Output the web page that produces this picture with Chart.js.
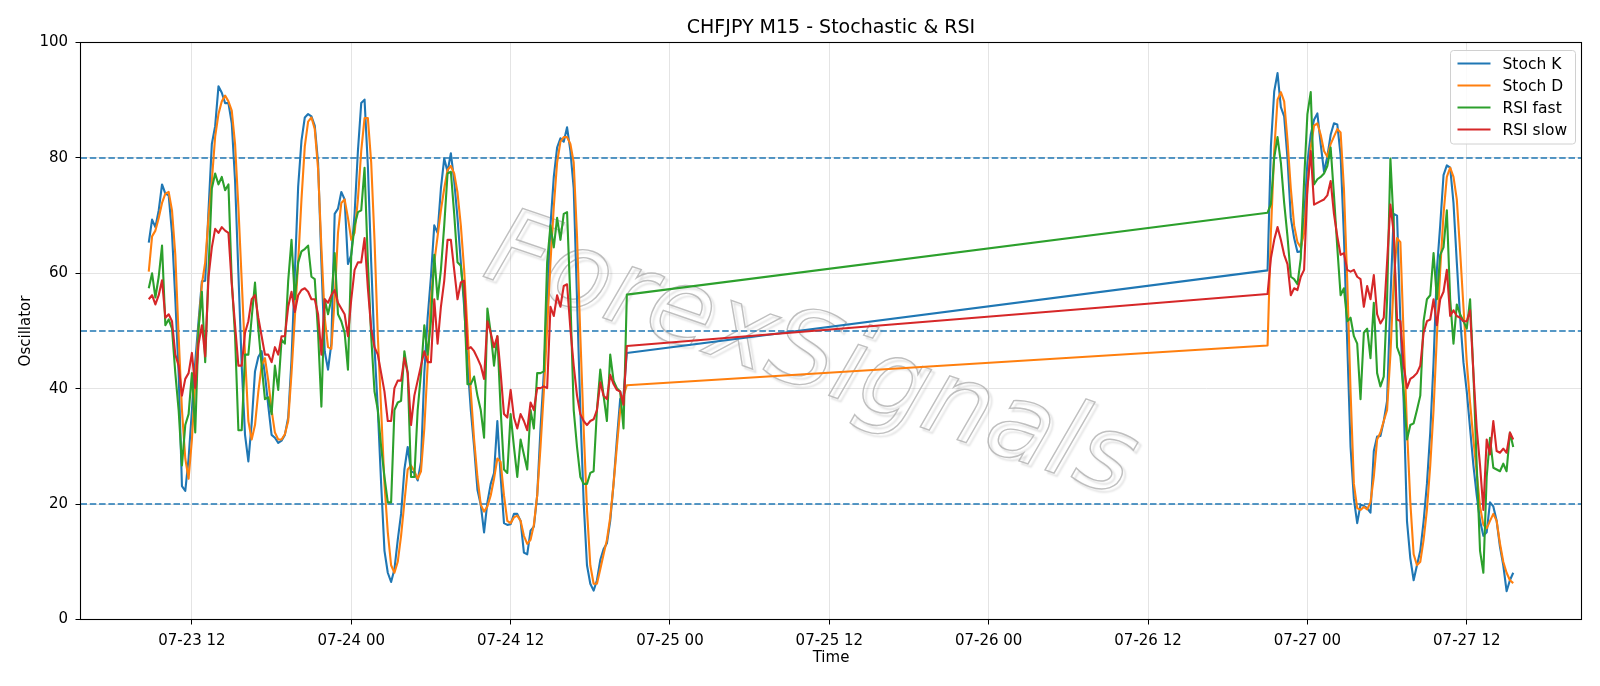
<!DOCTYPE html>
<html>
<head>
<meta charset="utf-8">
<title>CHFJPY M15 - Stochastic &amp; RSI</title>
<script src="https://cdn.jsdelivr.net/npm/chart.js@4.4.1/dist/chart.umd.min.js"></script>
<style>
  html, body { margin: 0; padding: 0; background: #fff; }
  #wrap { width: 1600px; height: 686px; }
</style>
</head>
<body>
<div id="wrap"><canvas id="chart" width="1600" height="686"></canvas></div>
<script>
// time axis in hours counted from 07-23 00:00, one bar every 15 minutes
const barStep = 0.25;
const fridayStart = 8.75;   // 07-23 08:45, runs until Friday close
const sundayStart = 93.0;   // 07-26 21:00, Sunday open

// session before the weekend gap (145 bars)
const stochK_fri = [
  65.3, 69.3, 68, 70.9, 75.4, 73.8, 73.5, 67, 55.5, 42.7,
  23.1, 22.3, 27.9, 36.3, 44.6, 51.7, 58.6, 58.7, 70.9, 82.4,
  85.5, 92.4, 91.3, 89.5, 89.5, 86, 76, 60, 44, 32,
  27.4, 34, 43, 45.5, 46.5, 42.5, 37, 32, 31.5, 30.6,
  31, 32, 35, 45, 60, 75, 83, 87, 87.6, 87.2,
  85.6, 79.2, 61.9, 46.5, 43.3, 47.8, 70.3, 71.2, 74.1, 72.8,
  61.6, 63.2, 70.3, 81.2, 89.5, 90.1, 78.6, 61.9, 47.2, 36.3,
  23.5, 11.9, 8.1, 6.5, 8.7, 13.8, 18.3, 26, 29.9, 25.7,
  25.4, 24.1, 27.3, 42.7, 52.3, 59.4, 68.3, 67, 74.7, 79.9,
  77.6, 80.8, 76, 69.6, 61.9, 54.2, 44.6, 36.3, 29.9, 22.5,
  19.9, 15.1, 20.3, 23.5, 25.4, 34.4, 24.7, 16.7, 16.4, 16.5,
  18.3, 18.3, 17.1, 11.6, 11.3, 15.4, 16.1, 21.5, 33.1, 42.7,
  54.2, 68.3, 76.7, 81.8, 83.4, 82.8, 85.3, 81.2, 74.7, 55.5,
  36.3, 20.3, 9.4, 6.2, 5, 6.8, 10.3, 12.2, 13.2, 17.1,
  23.5, 31.2, 38.2, 38.8, 46.2
];
const stochD_fri = [
  60.3, 66.4, 67.4, 69.6, 72.2, 73.8, 74.1, 70.9, 63.2, 49.1,
  36.3, 27.9, 24.4, 31.2, 41.4, 50.4, 58.1, 61.9, 69.6, 76,
  83.7, 87.6, 89.8, 90.8, 89.8, 88.2, 82.4, 71.5, 58.7, 45.9,
  34.4, 31.2, 33.7, 39.5, 44, 45.3, 41.4, 36.3, 32.4, 31.2,
  31.2, 32.1, 34.4, 42.7, 52.3, 61.9, 72.8, 82, 86.3, 87,
  85, 78.1, 64.5, 52.3, 47.2, 46.9, 55.5, 67, 72.2, 72.8,
  69.6, 65.8, 67, 72.8, 81.2, 86.9, 86.9, 79.2, 65.8, 49.1,
  36.3, 23.5, 15.1, 9.4, 8.1, 10, 14.5, 20.3, 26, 26.7,
  25.7, 24.4, 25.7, 33.1, 44, 55.5, 61.9, 66.4, 70.9, 74.7,
  77.9, 78.6, 77.3, 74, 68.3, 60.6, 50.4, 39.5, 31.2, 24.7,
  19.9, 18.7, 19.6, 21.5, 24.4, 27.9, 27.3, 21.5, 17.1, 16.7,
  17.7, 18, 17.1, 14.5, 13.1, 13.8, 16.4, 21.5, 29.9, 39.5,
  50.4, 61.9, 71.5, 79.2, 82.8, 83.6, 83.6, 82.4, 79.2, 66.4,
  49.1, 33.1, 19, 9.4, 6.2, 6.2, 8.7, 11.3, 13.8, 17.7,
  23.5, 29.9, 36.3, 38.8, 40.6
];
const rsiFast_fri = [
  57.4, 60, 55.8, 59.4, 64.8, 51, 52, 50.4, 42.7, 36.3,
  26.7, 33.7, 35.6, 42.7, 32.4, 50.4, 56.8, 44.6, 60.6, 74.7,
  77.3, 75.4, 76.7, 74.4, 75.4, 58.7, 49.1, 32.8, 32.8, 45.9,
  45.9, 52.3, 58.4, 50.4, 44, 38.2, 38.5, 35.6, 44, 39.8,
  48.5, 47.8, 58.7, 65.8, 55.5, 61.9, 63.8, 64.2, 64.8, 59.4,
  59, 49.7, 36.9, 55.5, 52.9, 55.5, 63.5, 52.9, 51.7, 49.7,
  43.3, 63.2, 68.3, 70.6, 70.9, 78.3, 61.9, 49.1, 39.5, 36.3,
  29.9, 24.7, 20.3, 20.3, 36.3, 37.6, 37.9, 46.5, 42.7, 24.7,
  24.7, 36.3, 42.7, 51, 45.9, 51.7, 63.2, 55.5, 60.6, 68.3,
  77.3, 77.6, 70.3, 61.9, 61.3, 55.5, 40.8, 40.8, 42.1, 38.8,
  36.3, 31.5, 53.9, 49.7, 44, 49.1, 36.3, 26, 25.4, 35.6,
  29.9, 24.7, 31.2, 28.6, 26, 36.3, 33.1, 42.7, 42.7, 43,
  61.9, 68.3, 64.5, 69.6, 65.8, 70.3, 70.6, 55.5, 36.3, 29.9,
  24.7, 23.5, 23.5, 25.4, 25.7, 36.3, 43.3, 38.8, 34.4, 45.9,
  41.4, 40.1, 39.5, 33.1, 56.3
];
const rsiSlow_fri = [
  55.5, 56.2, 54.6, 56.2, 58.8, 52.3, 52.9, 51.7, 45.9, 44,
  38.8, 41.7, 42.7, 46.2, 40.1, 47.8, 51, 45.6, 59.4, 64.5,
  67.7, 67, 68, 67.4, 67, 58.1, 51, 44, 44, 49.7,
  51.7, 55.5, 56.2, 52.3, 49.1, 45.9, 45.9, 44.6, 47.2, 45.9,
  49.1, 49.1, 54.2, 56.8, 53.3, 56.2, 57.1, 57.4, 56.8, 55.5,
  55.5, 52.9, 45.9, 55.5, 54.9, 56.2, 57.1, 54.9, 53.9, 52.9,
  49.1, 55.5, 60.6, 61.9, 61.9, 66.1, 57.4, 50.4, 47.2, 45.9,
  42.7, 39.5, 34.4, 34.4, 40.1, 41.4, 41.4, 45.3, 42.7, 33.7,
  38.8, 41.4, 44, 46.5, 44.6, 44.6, 55.5, 47.8, 54.2, 58.7,
  65.8, 65.8, 60.6, 55.5, 58.4, 58.7, 46.9, 47.2, 46.5, 45.3,
  44, 41.7, 51.7, 49.7, 47.2, 49.1, 42.7, 35.6, 35, 39.8,
  35, 33.1, 35.6, 34.4, 32.8, 37.6, 36.3, 40.1, 40.1, 40.4,
  40.1, 54.2, 52.6, 56.2, 54.2, 57.8, 58.1, 50.4, 44, 38.8,
  35.6, 34.4, 33.7, 34.4, 34.7, 36.3, 41.1, 38.8, 38.2, 42.4,
  40.8, 39.8, 39.5, 37.2, 47.4
];

// session after the weekend gap (75 bars)
const stochK_sun = [
  60.5, 82, 91.5, 94.7, 88.8, 87.2, 79.9, 69.6, 66.1, 63.7,
  63.8, 69.6, 79.2, 84, 86.6, 87.7, 82.4, 77.6, 80.2, 84,
  86, 85.8, 80.5, 66.4, 47.8, 29.9, 20.9, 16.7, 19.9, 19.7,
  19.3, 18.5, 29.2, 31.7, 31.8, 34.4, 37.9, 55.5, 70.3, 70,
  51.7, 37.6, 17, 10.6, 6.8, 9.4, 11.9, 17, 23.5, 32.4,
  44.6, 60.6, 68.3, 77, 78.7, 78.3, 72.2, 61.9, 52.3, 44.6,
  39.5, 33.1, 26.7, 21.5, 17.1, 14.5, 15.1, 20.3, 19.6, 17.1,
  12.6, 9.4, 4.9, 6.8, 8.1
];
const stochD_sun = [
  47.5, 67, 81.2, 90.1, 91.4, 89.8, 83.1, 74.7, 68.3, 65.4,
  64.5, 67, 74.7, 81.8, 85.6, 86, 84, 81.2, 80.2, 82.4,
  83.7, 85, 84.4, 74.7, 58.7, 39.5, 23.5, 19.3, 19, 19.5,
  19.1, 20.3, 24.7, 31.2, 32.4, 34.4, 36.3, 45.9, 58.7, 66.1,
  65.4, 49.1, 33.1, 20.3, 11.3, 9.4, 10, 13.8, 19, 26.7,
  36.3, 49.1, 60.6, 70.3, 76.7, 78.3, 76.7, 72.8, 63.8, 54.2,
  44.6, 37.6, 31.2, 25.4, 19.6, 16.4, 15.8, 17.1, 18.3, 17.1,
  13.2, 10, 8.1, 6.8, 6.3
];
const rsiFast_sun = [
  70.5, 72, 80, 83.6, 79.2, 72.2, 66.4, 59.4, 59, 58.1,
  62.6, 76, 87.6, 91.4, 75.4, 76.3, 76.7, 77.3, 78.6, 81.8,
  73.5, 64.5, 56.2, 57.4, 51.7, 52.3, 49.1, 47.8, 38.2, 49.7,
  50.4, 45.3, 54.9, 42.7, 40.4, 42.1, 55.5, 79.9, 68.3, 47.2,
  45.6, 39.5, 31.2, 33.7, 34, 36.3, 38.8, 51.7, 55.5, 56.2,
  63.5, 55.5, 63.2, 64.5, 70.9, 55.5, 47.8, 54.6, 52.9, 51.7,
  50.4, 55.5, 42.7, 26.7, 11.9, 8.1, 24.7, 31.5, 26.3, 26,
  25.7, 27, 25.7, 32.4, 29.9
];
const rsiSlow_sun = [
  56.4, 62.6, 65.8, 68, 65.8, 63.2, 61.6, 56.2, 57.4, 57.1,
  59.4, 60.6, 74.7, 81.2, 71.9, 72.2, 72.5, 72.8, 73.5, 76,
  70.3, 66.4, 63.2, 63.5, 60.6, 60.3, 60.6, 59.4, 59, 54.2,
  57.8, 55.5, 59.7, 52.9, 51.3, 52.3, 61.9, 71.9, 67, 52,
  51.7, 44, 40.1, 41.7, 42.1, 42.7, 44, 49.7, 51.7, 52,
  55.5, 51, 55.5, 56.8, 60.6, 52.6, 53.6, 52.6, 52.3, 51.7,
  51.7, 53.6, 42.7, 33.1, 26.7, 19, 31.2, 28.6, 34.4, 29.2,
  28.9, 29.6, 28.9, 32.4, 31.2
];

const xTickHours = [12, 24, 36, 48, 60, 72, 84, 96, 108];
const xTickLabels = ['07-23 12', '07-24 00', '07-24 12', '07-25 00', '07-25 12',
                     '07-26 00', '07-26 12', '07-27 00', '07-27 12'];
const refLevels = [20, 50, 80];
const seriesNames = ['Stoch K', 'Stoch D', 'RSI fast', 'RSI slow'];
const seriesColors = ['#1f77b4', '#ff7f0e', '#2ca02c', '#d62728'];

function toPoints(fri, sun) {
  const a = fri.map((v, i) => ({ x: fridayStart + i * barStep, y: v }));
  const b = sun.map((v, i) => ({ x: sundayStart + i * barStep, y: v }));
  return a.concat(b);
}

const seriesData = [
  toPoints(stochK_fri, stochK_sun),
  toPoints(stochD_fri, stochD_sun),
  toPoints(rsiFast_fri, rsiFast_sun),
  toPoints(rsiSlow_fri, rsiSlow_sun)
];

const baseFont = { family: 'DejaVu Sans', size: 15, weight: 'normal' };

// dashed overbought / mid / oversold lines
const refLines = {
  id: 'refLines',
  beforeDatasetsDraw(chart) {
    const { ctx, chartArea: a, scales: { y } } = chart;
    ctx.save();
    ctx.strokeStyle = '#1f77b4';
    ctx.lineWidth = 1.5;
    ctx.setLineDash([6.5, 2.8]);
    refLevels.forEach(v => {
      const py = y.getPixelForValue(v);
      ctx.beginPath();
      ctx.moveTo(a.left, py);
      ctx.lineTo(a.right, py);
      ctx.stroke();
    });
    ctx.restore();
  }
};

// grey outlined watermark across the plot
const watermark = {
  id: 'watermark',
  beforeDatasetsDraw(chart) {
    const { ctx, chartArea: a } = chart;
    ctx.save();
    ctx.translate(a.left + (a.right - a.left) * 0.486, a.top + (a.bottom - a.top) * 0.55);
    ctx.rotate(19 * Math.PI / 180);
    ctx.font = 'oblique 106px "DejaVu Sans"';
    ctx.textAlign = 'center';
    ctx.textBaseline = 'middle';
    ctx.shadowColor = 'rgba(0,0,0,0.18)';
    ctx.shadowOffsetX = 3;
    ctx.shadowOffsetY = 3;
    ctx.shadowBlur = 2;
    ctx.strokeStyle = 'rgba(175,175,175,0.8)';
    ctx.lineWidth = 1.4;
    ctx.strokeText('ForexSignals', 0, 0);
    ctx.restore();
  }
};

// black frame on all four sides, drawn above the lines like the spines
const frame = {
  id: 'frame',
  afterDatasetsDraw(chart) {
    const { ctx, chartArea: a } = chart;
    ctx.save();
    ctx.strokeStyle = '#000';
    ctx.lineWidth = 1.1;
    ctx.strokeRect(a.left, a.top, a.right - a.left, a.bottom - a.top);
    ctx.restore();
  }
};

// legend box in the upper right corner of the plot
const legendBox = {
  id: 'legendBox',
  afterDraw(chart) {
    const { ctx, chartArea: a } = chart;
    const w = 125, h = 93.5;
    const x0 = a.right - 6 - w, y0 = a.top + 8;
    ctx.save();
    ctx.beginPath();
    ctx.roundRect(x0, y0, w, h, 3);
    ctx.fillStyle = 'rgba(255,255,255,0.85)';
    ctx.fill();
    ctx.strokeStyle = '#d0d0d0';
    ctx.lineWidth = 1;
    ctx.stroke();
    ctx.font = '15.5px "DejaVu Sans"';
    ctx.textAlign = 'left';
    ctx.textBaseline = 'middle';
    chart.data.datasets.forEach((ds, k) => {
      const cy = y0 + 13 + k * 22;
      ctx.strokeStyle = ds.borderColor;
      ctx.lineWidth = 2.2;
      ctx.beginPath();
      ctx.moveTo(x0 + 7, cy);
      ctx.lineTo(x0 + 40, cy);
      ctx.stroke();
      ctx.fillStyle = '#000';
      ctx.fillText(ds.label, x0 + 52, cy + 1);
    });
    ctx.restore();
  }
};

new Chart(document.getElementById('chart'), {
  type: 'line',
  data: {
    datasets: seriesNames.map((name, k) => ({
      label: name,
      data: seriesData[k],
      borderColor: seriesColors[k],
      backgroundColor: seriesColors[k],
      borderWidth: 2.1,
      borderJoinStyle: 'round',
      pointRadius: 0,
      tension: 0,
      order: 4 - k
    }))
  },
  options: {
    responsive: false,
    animation: false,
    devicePixelRatio: 1,
    layout: { padding: { left: 0, right: 18.5, top: 0, bottom: 0 } },
    plugins: {
      legend: { display: false },
      tooltip: { enabled: false },
      title: {
        display: true,
        fullSize: false,
        text: 'CHFJPY M15 - Stochastic & RSI',
        color: '#000',
        font: { family: 'DejaVu Sans', size: 19, weight: 'normal' },
        padding: { top: 16.3, bottom: 3.4 }
      }
    },
    scales: {
      x: {
        type: 'linear',
        min: 3.61,
        max: 116.64,
        afterFit: s => { s.height = 66.5; },
        afterBuildTicks: s => { s.ticks = xTickHours.map(v => ({ value: v })); },
        ticks: {
          callback: v => xTickLabels[xTickHours.indexOf(v)],
          autoSkip: false,
          maxRotation: 0,
          padding: 8,
          color: '#000',
          font: baseFont
        },
        grid: { color: '#e4e4e4', lineWidth: 1, tickColor: '#000', tickLength: 5 },
        border: { display: false },
        title: { display: true, text: 'Time', color: '#000', font: baseFont, padding: { top: 4, bottom: 19 } }
      },
      y: {
        min: 0,
        max: 100,
        afterFit: s => { s.width = 80.5; },
        ticks: { stepSize: 20, padding: 7.4, color: '#000', font: baseFont },
        grid: { color: '#e4e4e4', lineWidth: 1, tickColor: '#000', tickLength: 5 },
        border: { display: false },
        title: { display: true, text: 'Oscillator', color: '#000', font: baseFont, padding: { top: 17, bottom: 0 } }
      }
    }
  },
  plugins: [watermark, refLines, frame, legendBox]
});
</script>
</body>
</html>
